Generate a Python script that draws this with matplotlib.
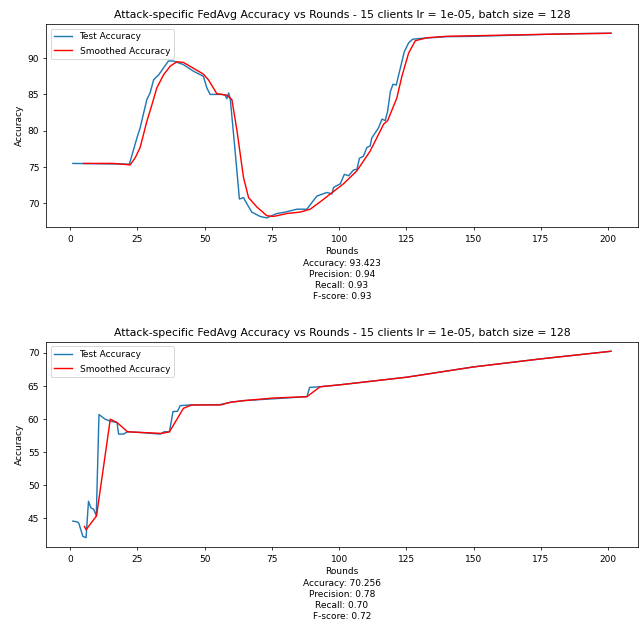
import numpy as np
import matplotlib
matplotlib.use("Agg")
import matplotlib.pyplot as plt

TITLE = "Attack-specific FedAvg Accuracy vs Rounds - 15 clients lr = 1e-05, batch size = 128"

# top run: test accuracy (rounds, value)
top_test_x = [1, 22, 24.8, 26, 28.5, 29.7, 31, 32.9, 36.5, 38.4, 42.1, 45.8, 49.5, 50.8, 52,
              56.4, 57.6, 58.2, 58.9, 59.5, 61.3, 62.9, 64.4, 65.6, 67.5, 70.6, 73.1, 76.8,
              79.9, 84.3, 88, 89.8, 91.7, 95.4, 97.3, 97.9, 100.4, 101.9, 103.5, 105.3, 106.6,
              107.5, 109, 110.3, 111.5, 112.1, 114.6, 115.9, 117.1, 118, 119, 120, 121.2,
              122.7, 124.2, 125.8, 127.3, 130, 140, 150, 160, 170, 180, 190, 201]
top_test_y = [75.5, 75.4, 79.0, 80.4, 84.3, 85.2, 87.0, 87.7, 89.6, 89.6, 89.1, 88.2, 87.5, 85.9, 85.0,
              85.0, 84.9, 84.4, 85.2, 84.4, 77.2, 70.6, 70.8, 70.0, 68.8, 68.2, 68.0, 68.6,
              68.8, 69.2, 69.2, 70.1, 71.0, 71.5, 71.3, 72.2, 72.7, 74.0, 73.8, 74.6, 74.7,
              76.2, 76.5, 77.7, 77.9, 79.0, 80.4, 81.6, 81.4, 82.7, 85.4, 86.4, 86.3,
              88.6, 90.9, 92.1, 92.6, 92.7, 92.95, 93.0, 93.1, 93.2, 93.3, 93.38, 93.42]

top_smooth_x = [5, 16, 22.3, 24.2, 26, 28.5, 30.4, 32.2, 34.7, 37.2, 39.7, 42.1, 45.8, 49.5, 51.4,
                54.5, 58.2, 60.1, 62, 64.4, 66.3, 69.4, 73.1, 75.6, 80.5, 85.5, 89.2, 92.9,
                96.7, 101.6, 106.6, 111.5, 116.5, 118, 121.4, 123.3, 125.8, 128.3, 132.6, 140,
                160, 180, 201]
top_smooth_y = [75.5, 75.5, 75.3, 76.3, 77.7, 81.3, 83.6, 85.9, 87.7, 88.9, 89.5, 89.4, 88.6, 87.8, 87.0,
                85.1, 84.9, 84.3, 80.0, 73.6, 70.8, 69.5, 68.3, 68.2, 68.6, 68.8, 69.2, 70.2,
                71.3, 72.7, 74.5, 77.2, 80.9, 81.4, 84.5, 87.5, 90.7, 92.4, 92.8, 93.0,
                93.15, 93.3, 93.42]

# bottom run
bot_test_x = [1, 2.5, 3.2, 4.7, 5.9, 6.8, 7.7, 8.7, 9.7, 10.7, 13, 14.9, 17.4, 18, 19.8, 21.3, 26,
              33.5, 34.9, 36.9, 38.2, 39.9, 40.9, 44.6, 55.8, 59.5, 64.4, 88, 89, 92.9, 100.4,
              125.2, 150, 174.7, 201]
bot_test_y = [44.6, 44.5, 44.3, 42.3, 42.1, 47.6, 46.6, 46.4, 45.4, 60.7, 60.0, 59.7, 59.5, 57.75, 57.75, 58.1, 58.0,
              57.75, 58.1, 58.1, 61.15, 61.2, 62.05, 62.15, 62.2, 62.55, 62.8, 63.4, 64.8, 64.9, 65.2,
              66.35, 67.9, 69.1, 70.26]

bot_smooth_x = [5.3, 5.9, 9.8, 14.9, 17.4, 21.3, 26, 34.1, 36.9, 42.1, 45.2, 55.8, 59.5, 64.4, 75.6,
                88, 92.9, 100.4, 125.2, 150, 174.7, 201]
bot_smooth_y = [43.8, 43.3, 45.4, 60.0, 59.5, 58.1, 58.0, 57.85, 58.1, 61.65, 62.15, 62.15, 62.55, 62.8, 63.2,
                63.4, 64.9, 65.2, 66.35, 67.9, 69.1, 70.26]

metrics_top = "Accuracy: 93.423\nPrecision: 0.94\nRecall: 0.93\nF-score: 0.93"
metrics_bot = "Accuracy: 70.256\nPrecision: 0.78\nRecall: 0.70\nF-score: 0.72"

plt.rcParams['font.size'] = 9.6

fig = plt.figure(figsize=(643 / 68, 624 / 68), dpi=68)
ax1 = fig.add_axes([0.0715, 0.636, 0.9205, 0.3255])
ax2 = fig.add_axes([0.0715, 0.1234, 0.9205, 0.3286])

panels = [
    (ax1, top_test_x, top_test_y, top_smooth_x, top_smooth_y, metrics_top),
    (ax2, bot_test_x, bot_test_y, bot_smooth_x, bot_smooth_y, metrics_bot),
]
for ax, tx, ty, sx, sy, metrics in panels:
    ax.plot(tx, ty, color="#1f77b4", label="Test Accuracy")
    ax.plot(sx, sy, color="red", label="Smoothed Accuracy")
    ax.set_title(TITLE, fontsize=11.5)
    ax.set_xlabel("Rounds\n" + metrics, linespacing=1.32)
    ax.set_ylabel("Accuracy")
    ax.set_xticks([0, 25, 50, 75, 100, 125, 150, 175, 200])
    ax.tick_params(axis='x', pad=4.5)
    ax.legend(loc="upper left", labelspacing=0.6)

fig.savefig("out.png", dpi=68)
